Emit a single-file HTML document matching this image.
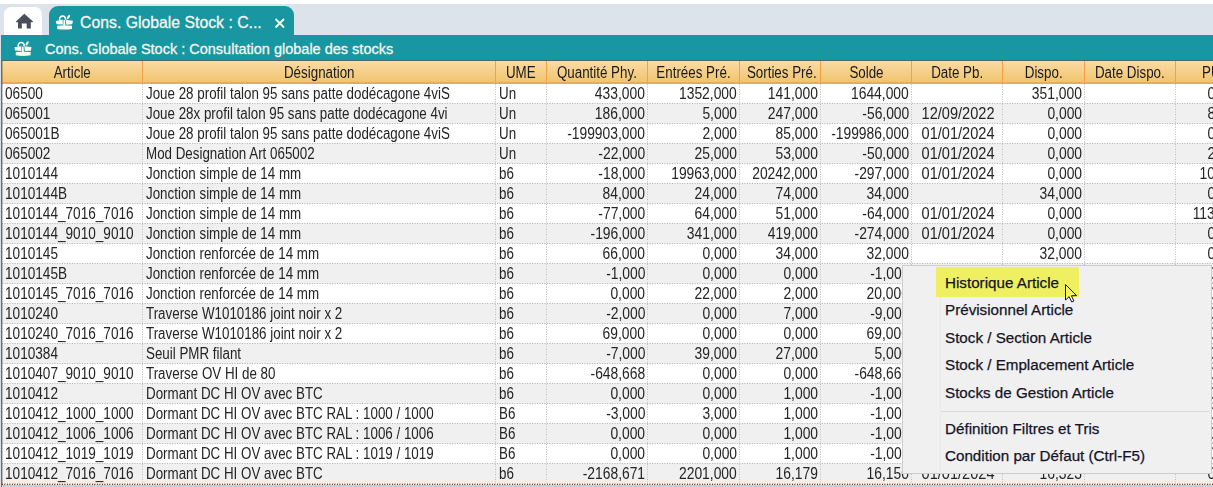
<!DOCTYPE html>
<html><head><meta charset="utf-8"><title>Cons. Globale Stock</title>
<style>
html,body{margin:0;padding:0;}
body{width:1213px;height:487px;overflow:hidden;position:relative;background:#fff;font-family:"Liberation Sans",Arial,sans-serif;}
#strip{position:absolute;left:0;top:4px;width:1213px;height:31px;background:#dce3eb;}
#lside{position:absolute;left:0;top:35px;width:1px;height:452px;background:#d8e0e9;}
#home{position:absolute;left:4px;top:7px;width:38px;height:28px;background:#fff;border-radius:7px 7px 0 0;}
#tab{position:absolute;left:49px;top:6px;width:245px;height:29px;background:#1896a1;border-radius:9px 9px 0 0;}
#tabt{position:absolute;left:80px;top:14px;font-size:15.8px;color:#f4f6ee;white-space:nowrap;letter-spacing:0px;-webkit-text-stroke:0.3px #f4f6ee;}
#bar{position:absolute;left:1px;top:35px;width:1212px;height:25px;background:#1896a1;}
#bart{position:absolute;left:45px;top:41px;font-size:14.5px;color:#f4f6ee;white-space:nowrap;-webkit-text-stroke:0.3px #f4f6ee;}
#gtop{position:absolute;left:1px;top:60px;width:1212px;height:1px;background:#55636e;}
#gleft{position:absolute;left:1px;top:60px;width:1px;height:427px;background:#686b70;}
#gleft2{position:absolute;left:2px;top:61px;width:1px;height:426px;background:rgba(0,0,0,0.22);}
#head{position:absolute;left:2px;top:61px;width:1211px;height:21px;background:linear-gradient(#fbdba4,#f1c56f);}
#hbot{position:absolute;left:2px;top:82px;width:1211px;height:2px;background:#f3a653;}
.hs{position:absolute;top:61px;width:1px;height:22px;background:#f3a048;}
.hc{position:absolute;height:21px;line-height:21px;text-align:center;font-size:16px;color:#1a1a1a;white-space:nowrap;}
.row{position:absolute;left:2px;width:1211px;height:19px;}
.hl{position:absolute;left:2px;width:1211px;height:1px;background:repeating-linear-gradient(90deg,#b6b6b6 0 1px,#f2f2f2 1px 2px,#d2d2d2 2px 4px,#f2f2f2 4px 5px);}
.vs{position:absolute;top:84px;width:1px;height:400px;background:repeating-linear-gradient(180deg,#bcbcbc 0 1px,transparent 1px 2px,#d8d8d8 2px 4px,transparent 4px 5px);}
.bc{position:absolute;height:19px;line-height:19px;font-size:16px;color:#242424;white-space:nowrap;}
.c{text-align:center;}
.r{text-align:right;}
span.l,span.r,span.c{display:inline-block;}
span.n{transform:scaleX(0.865);}
span.t{transform:scaleX(0.835);}
span.d{transform:scaleX(0.91);}
span.a{transform:scaleX(0.85);}
span.l{transform-origin:0 50%;}
span.r{transform-origin:100% 50%;}
span.c{transform-origin:50% 50%;}
#grid{position:absolute;left:0;top:0;width:1213px;height:487px;filter:grayscale(1);}
#selrow{position:absolute;left:2px;top:485px;width:1211px;height:2px;background:#b3d5f2;}
#focusl{position:absolute;left:2px;top:484px;width:1211px;height:1px;background:repeating-linear-gradient(90deg,#6a4028 0 1px,#e9e5e1 1px 2px,#8e6a50 2px 3px,#c4b0a0 3px 4px,#e9e5e1 4px 5px);}
#menu{position:absolute;left:902px;top:265px;width:308px;height:207px;background:#f0f0f0;border:1px solid #cdcdcd;}
#gut{position:absolute;left:37px;top:0;width:1px;height:207px;background:#e9e9e9;}
#hi{position:absolute;left:33px;top:1px;width:143px;height:30px;background:#eff061;}
.mi{position:absolute;left:42px;font-size:15.2px;color:#141428;white-space:nowrap;-webkit-text-stroke:0.25px #141428;}
#msep{position:absolute;left:38px;top:145px;width:268px;height:1px;background:#d9d9d9;}
</style></head><body>
<div id="strip"></div>
<div id="home"><svg width="38" height="28" viewBox="4 7 38 28" style="position:absolute;left:0;top:0"><path d="M24.3 13.8 L33 21.6 Q33 22.3 32.2 22.3 L30.8 22.3 L30.8 28.6 L26.7 28.6 L26.7 23.6 L21.8 23.6 L21.8 28.6 L18 28.6 L18 22.3 L16.6 22.3 Q15.7 22.3 16 21.6 Z" fill="#4a4e5b"/></svg></div>
<div id="tab"></div>
<svg width="26" height="20" viewBox="0 0 26 20" style="position:absolute;left:0;top:0;transform:translate(51.4px,11.6px)">
<g fill="#fbfbf5">
 <path d="M4.3 9.3 L11.4 8.2 L11.4 13.0 L5.2 12.6 Z"/>
 <path d="M14.3 8.2 L21.5 9.1 L20.9 12.7 L14.9 13.1 Z"/>
 <path d="M12.2 8.4 L13.6 8.4 L14 14.2 L11.8 14.2 Z"/>
 <path d="M5.8 14.1 L12.9 13.7 L20.6 14.1 L20.6 17.3 Q13.1 18.7 5.8 17.3 Z"/>
 <ellipse cx="17.1" cy="5.4" rx="1.1" ry="2.4" transform="rotate(32 17.1 5.4)"/>
 </g>
 <path d="M8.5 8.8 A3 3 0 1 1 14.1 8.2" fill="none" stroke="#fbfbf5" stroke-width="1.6"/>
</svg>
<div id="tabt">Cons. Globale Stock : C...</div>
<svg width="12" height="12" viewBox="0 0 12 12" style="position:absolute;left:274px;top:17px"><path d="M1.5 2 L10 10.5 M10 2 L1.5 10.5" stroke="#f4f6ee" stroke-width="1.9"/></svg>
<div id="bar"></div>
<svg width="26" height="20" viewBox="0 0 26 20" style="position:absolute;left:10px;top:38px">
<g fill="#fbfbf5">
 <path d="M4.3 9.3 L11.4 8.2 L11.4 13.0 L5.2 12.6 Z"/>
 <path d="M14.3 8.2 L21.5 9.1 L20.9 12.7 L14.9 13.1 Z"/>
 <path d="M12.2 8.4 L13.6 8.4 L14 14.2 L11.8 14.2 Z"/>
 <path d="M5.8 14.1 L12.9 13.7 L20.6 14.1 L20.6 17.3 Q13.1 18.7 5.8 17.3 Z"/>
 <ellipse cx="17.1" cy="5.4" rx="1.1" ry="2.4" transform="rotate(32 17.1 5.4)"/>
 </g>
 <path d="M8.5 8.8 A3 3 0 1 1 14.1 8.2" fill="none" stroke="#fbfbf5" stroke-width="1.6"/>
</svg>
<div id="bart">Cons. Globale Stock : Consultation globale des stocks</div>
<div id="lside"></div>
<div id="head"></div>
<div id="hbot"></div>
<div class="hs" style="left:142px"></div><div class="hs" style="left:495px"></div><div class="hs" style="left:546px"></div><div class="hs" style="left:647px"></div><div class="hs" style="left:739px"></div><div class="hs" style="left:820px"></div><div class="hs" style="left:911px"></div><div class="hs" style="left:1002px"></div><div class="hs" style="left:1084px"></div><div class="hs" style="left:1175px"></div>
<div id="grid"><div class="hc" style="left:2px;width:140px;top:62px"><span class="c t">Article</span></div>
<div class="hc" style="left:143px;width:352px;top:62px"><span class="c t">Désignation</span></div>
<div class="hc" style="left:496px;width:50px;top:62px"><span class="c t">UME</span></div>
<div class="hc" style="left:547px;width:100px;top:62px"><span class="c t">Quantité Phy.</span></div>
<div class="hc" style="left:648px;width:91px;top:62px"><span class="c t">Entrées Pré.</span></div>
<div class="hc" style="left:740px;width:80px;top:62px"><span class="c t">Sorties Pré.</span></div>
<div class="hc" style="left:821px;width:90px;top:62px"><span class="c t">Solde</span></div>
<div class="hc" style="left:912px;width:90px;top:62px"><span class="c t">Date Pb.</span></div>
<div class="hc" style="left:1003px;width:81px;top:62px"><span class="c t">Dispo.</span></div>
<div class="hc" style="left:1085px;width:90px;top:62px"><span class="c t">Date Dispo.</span></div>
<div class="hc" style="left:1202px;top:62px;text-align:left"><span class="l t">PUMP</span></div>
<div class="row" style="top:84px;background:#ffffff"></div>
<div class="hl" style="top:103px"></div>
<div class="bc" style="left:5px;top:84px"><span class="l a">06500</span></div>
<div class="bc" style="left:146px;top:84px"><span class="l t">Joue 28 profil talon 95 sans patte dodécagone 4viS</span></div>
<div class="bc" style="left:499px;top:84px"><span class="l t">Un</span></div>
<div class="bc r" style="right:568px;top:84px"><span class="r n">433,000</span></div>
<div class="bc r" style="right:476px;top:84px"><span class="r n">1352,000</span></div>
<div class="bc r" style="right:395px;top:84px"><span class="r n">141,000</span></div>
<div class="bc r" style="right:304px;top:84px"><span class="r n">1644,000</span></div>

<div class="bc r" style="right:131px;top:84px"><span class="r n">351,000</span></div>

<div class="bc r" style="right:-29px;top:84px"><span class="r n">0,000</span></div>
<div class="row" style="top:104px;background:#f0f0f0"></div>
<div class="hl" style="top:123px"></div>
<div class="bc" style="left:5px;top:104px"><span class="l a">065001</span></div>
<div class="bc" style="left:146px;top:104px"><span class="l t">Joue 28x profil talon 95 sans patte dodécagone 4vi</span></div>
<div class="bc" style="left:499px;top:104px"><span class="l t">Un</span></div>
<div class="bc r" style="right:568px;top:104px"><span class="r n">186,000</span></div>
<div class="bc r" style="right:476px;top:104px"><span class="r n">5,000</span></div>
<div class="bc r" style="right:395px;top:104px"><span class="r n">247,000</span></div>
<div class="bc r" style="right:304px;top:104px"><span class="r n">-56,000</span></div>
<div class="bc c" style="left:913px;width:90px;top:104px"><span class="c d">12/09/2022</span></div>
<div class="bc r" style="right:131px;top:104px"><span class="r n">0,000</span></div>

<div class="bc r" style="right:-29px;top:104px"><span class="r n">8,000</span></div>
<div class="row" style="top:124px;background:#ffffff"></div>
<div class="hl" style="top:143px"></div>
<div class="bc" style="left:5px;top:124px"><span class="l a">065001B</span></div>
<div class="bc" style="left:146px;top:124px"><span class="l t">Joue 28 profil talon 95 sans patte dodécagone 4viS</span></div>
<div class="bc" style="left:499px;top:124px"><span class="l t">Un</span></div>
<div class="bc r" style="right:568px;top:124px"><span class="r n">-199903,000</span></div>
<div class="bc r" style="right:476px;top:124px"><span class="r n">2,000</span></div>
<div class="bc r" style="right:395px;top:124px"><span class="r n">85,000</span></div>
<div class="bc r" style="right:304px;top:124px"><span class="r n">-199986,000</span></div>
<div class="bc c" style="left:913px;width:90px;top:124px"><span class="c d">01/01/2024</span></div>
<div class="bc r" style="right:131px;top:124px"><span class="r n">0,000</span></div>

<div class="bc r" style="right:-29px;top:124px"><span class="r n">0,000</span></div>
<div class="row" style="top:144px;background:#f0f0f0"></div>
<div class="hl" style="top:163px"></div>
<div class="bc" style="left:5px;top:144px"><span class="l a">065002</span></div>
<div class="bc" style="left:146px;top:144px"><span class="l t">Mod Designation Art 065002</span></div>
<div class="bc" style="left:499px;top:144px"><span class="l t">Un</span></div>
<div class="bc r" style="right:568px;top:144px"><span class="r n">-22,000</span></div>
<div class="bc r" style="right:476px;top:144px"><span class="r n">25,000</span></div>
<div class="bc r" style="right:395px;top:144px"><span class="r n">53,000</span></div>
<div class="bc r" style="right:304px;top:144px"><span class="r n">-50,000</span></div>
<div class="bc c" style="left:913px;width:90px;top:144px"><span class="c d">01/01/2024</span></div>
<div class="bc r" style="right:131px;top:144px"><span class="r n">0,000</span></div>

<div class="bc r" style="right:-29px;top:144px"><span class="r n">2,000</span></div>
<div class="row" style="top:164px;background:#ffffff"></div>
<div class="hl" style="top:183px"></div>
<div class="bc" style="left:5px;top:164px"><span class="l a">1010144</span></div>
<div class="bc" style="left:146px;top:164px"><span class="l t">Jonction simple de 14 mm</span></div>
<div class="bc" style="left:499px;top:164px"><span class="l t">b6</span></div>
<div class="bc r" style="right:568px;top:164px"><span class="r n">-18,000</span></div>
<div class="bc r" style="right:476px;top:164px"><span class="r n">19963,000</span></div>
<div class="bc r" style="right:395px;top:164px"><span class="r n">20242,000</span></div>
<div class="bc r" style="right:304px;top:164px"><span class="r n">-297,000</span></div>
<div class="bc c" style="left:913px;width:90px;top:164px"><span class="c d">01/01/2024</span></div>
<div class="bc r" style="right:131px;top:164px"><span class="r n">0,000</span></div>

<div class="bc r" style="right:-29px;top:164px"><span class="r n">10,000</span></div>
<div class="row" style="top:184px;background:#f0f0f0"></div>
<div class="hl" style="top:203px"></div>
<div class="bc" style="left:5px;top:184px"><span class="l a">1010144B</span></div>
<div class="bc" style="left:146px;top:184px"><span class="l t">Jonction simple de 14 mm</span></div>
<div class="bc" style="left:499px;top:184px"><span class="l t">b6</span></div>
<div class="bc r" style="right:568px;top:184px"><span class="r n">84,000</span></div>
<div class="bc r" style="right:476px;top:184px"><span class="r n">24,000</span></div>
<div class="bc r" style="right:395px;top:184px"><span class="r n">74,000</span></div>
<div class="bc r" style="right:304px;top:184px"><span class="r n">34,000</span></div>

<div class="bc r" style="right:131px;top:184px"><span class="r n">34,000</span></div>

<div class="bc r" style="right:-29px;top:184px"><span class="r n">0,000</span></div>
<div class="row" style="top:204px;background:#ffffff"></div>
<div class="hl" style="top:223px"></div>
<div class="bc" style="left:5px;top:204px"><span class="l a">1010144_7016_7016</span></div>
<div class="bc" style="left:146px;top:204px"><span class="l t">Jonction simple de 14 mm</span></div>
<div class="bc" style="left:499px;top:204px"><span class="l t">b6</span></div>
<div class="bc r" style="right:568px;top:204px"><span class="r n">-77,000</span></div>
<div class="bc r" style="right:476px;top:204px"><span class="r n">64,000</span></div>
<div class="bc r" style="right:395px;top:204px"><span class="r n">51,000</span></div>
<div class="bc r" style="right:304px;top:204px"><span class="r n">-64,000</span></div>
<div class="bc c" style="left:913px;width:90px;top:204px"><span class="c d">01/01/2024</span></div>
<div class="bc r" style="right:131px;top:204px"><span class="r n">0,000</span></div>

<div class="bc r" style="right:-29px;top:204px"><span class="r n">113,000</span></div>
<div class="row" style="top:224px;background:#f0f0f0"></div>
<div class="hl" style="top:243px"></div>
<div class="bc" style="left:5px;top:224px"><span class="l a">1010144_9010_9010</span></div>
<div class="bc" style="left:146px;top:224px"><span class="l t">Jonction simple de 14 mm</span></div>
<div class="bc" style="left:499px;top:224px"><span class="l t">b6</span></div>
<div class="bc r" style="right:568px;top:224px"><span class="r n">-196,000</span></div>
<div class="bc r" style="right:476px;top:224px"><span class="r n">341,000</span></div>
<div class="bc r" style="right:395px;top:224px"><span class="r n">419,000</span></div>
<div class="bc r" style="right:304px;top:224px"><span class="r n">-274,000</span></div>
<div class="bc c" style="left:913px;width:90px;top:224px"><span class="c d">01/01/2024</span></div>
<div class="bc r" style="right:131px;top:224px"><span class="r n">0,000</span></div>

<div class="bc r" style="right:-29px;top:224px"><span class="r n">0,000</span></div>
<div class="row" style="top:244px;background:#ffffff"></div>
<div class="hl" style="top:263px"></div>
<div class="bc" style="left:5px;top:244px"><span class="l a">1010145</span></div>
<div class="bc" style="left:146px;top:244px"><span class="l t">Jonction renforcée de 14 mm</span></div>
<div class="bc" style="left:499px;top:244px"><span class="l t">b6</span></div>
<div class="bc r" style="right:568px;top:244px"><span class="r n">66,000</span></div>
<div class="bc r" style="right:476px;top:244px"><span class="r n">0,000</span></div>
<div class="bc r" style="right:395px;top:244px"><span class="r n">34,000</span></div>
<div class="bc r" style="right:304px;top:244px"><span class="r n">32,000</span></div>

<div class="bc r" style="right:131px;top:244px"><span class="r n">32,000</span></div>

<div class="bc r" style="right:-29px;top:244px"><span class="r n">0,000</span></div>
<div class="row" style="top:264px;background:#f0f0f0"></div>
<div class="hl" style="top:283px"></div>
<div class="bc" style="left:5px;top:264px"><span class="l a">1010145B</span></div>
<div class="bc" style="left:146px;top:264px"><span class="l t">Jonction renforcée de 14 mm</span></div>
<div class="bc" style="left:499px;top:264px"><span class="l t">b6</span></div>
<div class="bc r" style="right:568px;top:264px"><span class="r n">-1,000</span></div>
<div class="bc r" style="right:476px;top:264px"><span class="r n">0,000</span></div>
<div class="bc r" style="right:395px;top:264px"><span class="r n">0,000</span></div>
<div class="bc r" style="right:304px;top:264px"><span class="r n">-1,000</span></div>

<div class="bc r" style="right:131px;top:264px"><span class="r n">0,000</span></div>

<div class="bc r" style="right:-29px;top:264px"><span class="r n">0,000</span></div>
<div class="row" style="top:284px;background:#ffffff"></div>
<div class="hl" style="top:303px"></div>
<div class="bc" style="left:5px;top:284px"><span class="l a">1010145_7016_7016</span></div>
<div class="bc" style="left:146px;top:284px"><span class="l t">Jonction renforcée de 14 mm</span></div>
<div class="bc" style="left:499px;top:284px"><span class="l t">b6</span></div>
<div class="bc r" style="right:568px;top:284px"><span class="r n">0,000</span></div>
<div class="bc r" style="right:476px;top:284px"><span class="r n">22,000</span></div>
<div class="bc r" style="right:395px;top:284px"><span class="r n">2,000</span></div>
<div class="bc r" style="right:304px;top:284px"><span class="r n">20,000</span></div>

<div class="bc r" style="right:131px;top:284px"><span class="r n">20,000</span></div>

<div class="bc r" style="right:-29px;top:284px"><span class="r n">0,000</span></div>
<div class="row" style="top:304px;background:#f0f0f0"></div>
<div class="hl" style="top:323px"></div>
<div class="bc" style="left:5px;top:304px"><span class="l a">1010240</span></div>
<div class="bc" style="left:146px;top:304px"><span class="l t">Traverse W1010186 joint noir x 2</span></div>
<div class="bc" style="left:499px;top:304px"><span class="l t">b6</span></div>
<div class="bc r" style="right:568px;top:304px"><span class="r n">-2,000</span></div>
<div class="bc r" style="right:476px;top:304px"><span class="r n">0,000</span></div>
<div class="bc r" style="right:395px;top:304px"><span class="r n">7,000</span></div>
<div class="bc r" style="right:304px;top:304px"><span class="r n">-9,000</span></div>

<div class="bc r" style="right:131px;top:304px"><span class="r n">0,000</span></div>

<div class="bc r" style="right:-29px;top:304px"><span class="r n">0,000</span></div>
<div class="row" style="top:324px;background:#ffffff"></div>
<div class="hl" style="top:343px"></div>
<div class="bc" style="left:5px;top:324px"><span class="l a">1010240_7016_7016</span></div>
<div class="bc" style="left:146px;top:324px"><span class="l t">Traverse W1010186 joint noir x 2</span></div>
<div class="bc" style="left:499px;top:324px"><span class="l t">b6</span></div>
<div class="bc r" style="right:568px;top:324px"><span class="r n">69,000</span></div>
<div class="bc r" style="right:476px;top:324px"><span class="r n">0,000</span></div>
<div class="bc r" style="right:395px;top:324px"><span class="r n">0,000</span></div>
<div class="bc r" style="right:304px;top:324px"><span class="r n">69,000</span></div>

<div class="bc r" style="right:131px;top:324px"><span class="r n">69,000</span></div>

<div class="bc r" style="right:-29px;top:324px"><span class="r n">0,000</span></div>
<div class="row" style="top:344px;background:#f0f0f0"></div>
<div class="hl" style="top:363px"></div>
<div class="bc" style="left:5px;top:344px"><span class="l a">1010384</span></div>
<div class="bc" style="left:146px;top:344px"><span class="l t">Seuil PMR filant</span></div>
<div class="bc" style="left:499px;top:344px"><span class="l t">b6</span></div>
<div class="bc r" style="right:568px;top:344px"><span class="r n">-7,000</span></div>
<div class="bc r" style="right:476px;top:344px"><span class="r n">39,000</span></div>
<div class="bc r" style="right:395px;top:344px"><span class="r n">27,000</span></div>
<div class="bc r" style="right:304px;top:344px"><span class="r n">5,000</span></div>

<div class="bc r" style="right:131px;top:344px"><span class="r n">5,000</span></div>

<div class="bc r" style="right:-29px;top:344px"><span class="r n">0,000</span></div>
<div class="row" style="top:364px;background:#ffffff"></div>
<div class="hl" style="top:383px"></div>
<div class="bc" style="left:5px;top:364px"><span class="l a">1010407_9010_9010</span></div>
<div class="bc" style="left:146px;top:364px"><span class="l t">Traverse OV HI de 80</span></div>
<div class="bc" style="left:499px;top:364px"><span class="l t">b6</span></div>
<div class="bc r" style="right:568px;top:364px"><span class="r n">-648,668</span></div>
<div class="bc r" style="right:476px;top:364px"><span class="r n">0,000</span></div>
<div class="bc r" style="right:395px;top:364px"><span class="r n">0,000</span></div>
<div class="bc r" style="right:304px;top:364px"><span class="r n">-648,668</span></div>

<div class="bc r" style="right:131px;top:364px"><span class="r n">0,000</span></div>

<div class="bc r" style="right:-29px;top:364px"><span class="r n">0,000</span></div>
<div class="row" style="top:384px;background:#f0f0f0"></div>
<div class="hl" style="top:403px"></div>
<div class="bc" style="left:5px;top:384px"><span class="l a">1010412</span></div>
<div class="bc" style="left:146px;top:384px"><span class="l t">Dormant DC HI OV avec BTC</span></div>
<div class="bc" style="left:499px;top:384px"><span class="l t">b6</span></div>
<div class="bc r" style="right:568px;top:384px"><span class="r n">0,000</span></div>
<div class="bc r" style="right:476px;top:384px"><span class="r n">0,000</span></div>
<div class="bc r" style="right:395px;top:384px"><span class="r n">1,000</span></div>
<div class="bc r" style="right:304px;top:384px"><span class="r n">-1,000</span></div>

<div class="bc r" style="right:131px;top:384px"><span class="r n">0,000</span></div>

<div class="bc r" style="right:-29px;top:384px"><span class="r n">0,000</span></div>
<div class="row" style="top:404px;background:#ffffff"></div>
<div class="hl" style="top:423px"></div>
<div class="bc" style="left:5px;top:404px"><span class="l a">1010412_1000_1000</span></div>
<div class="bc" style="left:146px;top:404px"><span class="l t">Dormant DC HI OV avec BTC RAL : 1000 / 1000</span></div>
<div class="bc" style="left:499px;top:404px"><span class="l t">B6</span></div>
<div class="bc r" style="right:568px;top:404px"><span class="r n">-3,000</span></div>
<div class="bc r" style="right:476px;top:404px"><span class="r n">3,000</span></div>
<div class="bc r" style="right:395px;top:404px"><span class="r n">1,000</span></div>
<div class="bc r" style="right:304px;top:404px"><span class="r n">-1,000</span></div>

<div class="bc r" style="right:131px;top:404px"><span class="r n">0,000</span></div>

<div class="bc r" style="right:-29px;top:404px"><span class="r n">0,000</span></div>
<div class="row" style="top:424px;background:#f0f0f0"></div>
<div class="hl" style="top:443px"></div>
<div class="bc" style="left:5px;top:424px"><span class="l a">1010412_1006_1006</span></div>
<div class="bc" style="left:146px;top:424px"><span class="l t">Dormant DC HI OV avec BTC RAL : 1006 / 1006</span></div>
<div class="bc" style="left:499px;top:424px"><span class="l t">B6</span></div>
<div class="bc r" style="right:568px;top:424px"><span class="r n">0,000</span></div>
<div class="bc r" style="right:476px;top:424px"><span class="r n">0,000</span></div>
<div class="bc r" style="right:395px;top:424px"><span class="r n">1,000</span></div>
<div class="bc r" style="right:304px;top:424px"><span class="r n">-1,000</span></div>

<div class="bc r" style="right:131px;top:424px"><span class="r n">0,000</span></div>

<div class="bc r" style="right:-29px;top:424px"><span class="r n">0,000</span></div>
<div class="row" style="top:444px;background:#ffffff"></div>
<div class="hl" style="top:463px"></div>
<div class="bc" style="left:5px;top:444px"><span class="l a">1010412_1019_1019</span></div>
<div class="bc" style="left:146px;top:444px"><span class="l t">Dormant DC HI OV avec BTC RAL : 1019 / 1019</span></div>
<div class="bc" style="left:499px;top:444px"><span class="l t">B6</span></div>
<div class="bc r" style="right:568px;top:444px"><span class="r n">0,000</span></div>
<div class="bc r" style="right:476px;top:444px"><span class="r n">0,000</span></div>
<div class="bc r" style="right:395px;top:444px"><span class="r n">1,000</span></div>
<div class="bc r" style="right:304px;top:444px"><span class="r n">-1,000</span></div>

<div class="bc r" style="right:131px;top:444px"><span class="r n">0,000</span></div>

<div class="bc r" style="right:-29px;top:444px"><span class="r n">0,000</span></div>
<div class="row" style="top:464px;background:#f0f0f0"></div>
<div class="hl" style="top:483px"></div>
<div class="bc" style="left:5px;top:464px"><span class="l a">1010412_7016_7016</span></div>
<div class="bc" style="left:146px;top:464px"><span class="l t">Dormant DC HI OV avec BTC</span></div>
<div class="bc" style="left:499px;top:464px"><span class="l t">b6</span></div>
<div class="bc r" style="right:568px;top:464px"><span class="r n">-2168,671</span></div>
<div class="bc r" style="right:476px;top:464px"><span class="r n">2201,000</span></div>
<div class="bc r" style="right:395px;top:464px"><span class="r n">16,179</span></div>
<div class="bc r" style="right:304px;top:464px"><span class="r n">16,150</span></div>
<div class="bc c" style="left:913px;width:90px;top:464px"><span class="c d">01/01/2024</span></div>
<div class="bc r" style="right:131px;top:464px"><span class="r n">16,323</span></div>

<div class="bc r" style="right:-29px;top:464px"><span class="r n">0,000</span></div>
<div class="vs" style="left:142px"></div>
<div class="vs" style="left:495px"></div>
<div class="vs" style="left:546px"></div>
<div class="vs" style="left:647px"></div>
<div class="vs" style="left:739px"></div>
<div class="vs" style="left:820px"></div>
<div class="vs" style="left:911px"></div>
<div class="vs" style="left:1002px"></div>
<div class="vs" style="left:1084px"></div>
<div class="vs" style="left:1175px"></div></div>
<div id="gtop"></div>
<div id="gleft"></div>
<div id="gleft2"></div>
<div id="focusl"></div>
<div id="selrow"></div>
<div id="menu">
 <div id="gut"></div>
 <div id="hi"></div>
 <div class="mi" style="top:8px">Historique Article</div>
 <div class="mi" style="top:35px">Prévisionnel Article</div>
 <div class="mi" style="top:63px">Stock / Section Article</div>
 <div class="mi" style="top:90px">Stock / Emplacement Article</div>
 <div class="mi" style="top:118px">Stocks de Gestion Article</div>
 <div id="msep"></div>
 <div class="mi" style="top:154px">Définition Filtres et Tris</div>
 <div class="mi" style="top:181px">Condition par Défaut (Ctrl-F5)</div>
</div>
<svg width="16" height="22" viewBox="0 0 16 22" style="position:absolute;left:1064px;top:283px"><defs><linearGradient id="cg" x1="0" y1="0" x2="0" y2="22" gradientUnits="userSpaceOnUse"><stop offset="0.63" stop-color="#f9f75a"/><stop offset="0.63" stop-color="#ffffff"/></linearGradient></defs><path d="M1.5 1.5 L1.5 17 L5.1 13.7 L7.8 19 L9.9 18 L7.4 12.8 L12.6 12.6 Z" fill="url(#cg)" stroke="#111" stroke-width="1" stroke-linejoin="round"/></svg>
</body></html>
